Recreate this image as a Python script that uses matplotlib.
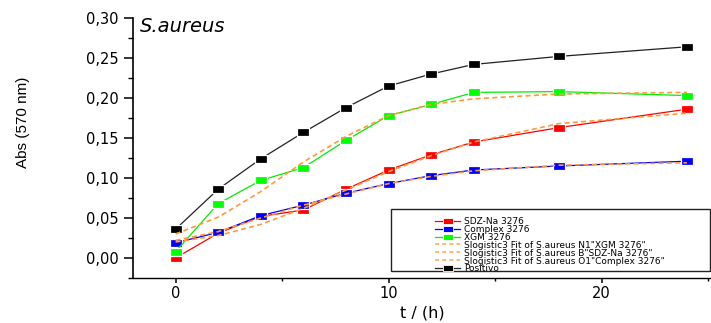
import matplotlib
matplotlib.use("Agg")
import matplotlib.pyplot as plt
from matplotlib.path import Path
from matplotlib.patches import Rectangle
from matplotlib.lines import Line2D
from matplotlib.ticker import MultipleLocator, FuncFormatter
import warnings

warnings.filterwarnings("ignore")

# Sampling times (h)
time_h = [0, 2, 4, 6, 8, 10, 12, 14, 18, 24]

# Absorbance at 570 nm
abs_sdz_na = [0.000, 0.031, 0.052, 0.060, 0.086, 0.110, 0.129, 0.145, 0.163, 0.186]
abs_complex = [0.019, 0.032, 0.053, 0.066, 0.081, 0.093, 0.103, 0.110, 0.115, 0.121]
abs_xgm = [0.008, 0.068, 0.097, 0.113, 0.147, 0.178, 0.192, 0.207, 0.208, 0.203]
abs_positivo = [0.036, 0.086, 0.124, 0.157, 0.188, 0.215, 0.230, 0.242, 0.252, 0.264]

# Slogistic3 fitted values at the sampling times
fit_xgm = [0.030, 0.051, 0.083, 0.120, 0.152, 0.178, 0.192, 0.199, 0.205, 0.207]
fit_sdz_na = [0.020, 0.028, 0.042, 0.062, 0.085, 0.108, 0.128, 0.145, 0.168, 0.181]
fit_complex = [0.022, 0.033, 0.050, 0.066, 0.080, 0.093, 0.102, 0.109, 0.116, 0.119]

labels = ["SDZ-Na 3276", "Complex 3276", "XGM 3276",
          'Slogistic3 Fit of S.aureus N1"XGM 3276"',
          'Slogistic3 Fit of S.aureus B"SDZ-Na 3276"',
          'Slogistic3 Fit of S.aureus O1"Complex 3276"',
          "Positivo"]

W, H = 711, 323
fig = plt.figure(figsize=(W / 100, H / 100), dpi=100)


def fx(px):
    return px / W


def fy(py):
    return 1 - py / H


ax = fig.add_axes([fx(133), fy(278.3), (W - 133) / W, (278.3 - 18) / H])

rect = Path([(-1, -0.7), (1, -0.7), (1, 0.7), (-1, 0.7), (-1, -0.7)],
            [Path.MOVETO, Path.LINETO, Path.LINETO, Path.LINETO, Path.CLOSEPOLY])

data_style = dict(marker=rect, markersize=8.6, markeredgecolor="white",
                  markeredgewidth=0.9, linewidth=0.9)
fit_style = dict(color="#FF9A3C", linestyle=(0, (3, 2)), linewidth=1.2)

h_sdz, = ax.plot(time_h, abs_sdz_na, color="#FF0000", markerfacecolor="#FF0000", **data_style)
h_cpx, = ax.plot(time_h, abs_complex, color="#0000FF", markerfacecolor="#0000FF", **data_style)
h_xgm, = ax.plot(time_h, abs_xgm, color="#00EE00", markerfacecolor="#00FF00", **data_style)
h_pos, = ax.plot(time_h, abs_positivo, color="#222222", markerfacecolor="#000000", **data_style)
h_fx, = ax.plot(time_h, fit_xgm, **fit_style)
h_fs, = ax.plot(time_h, fit_sdz_na, **fit_style)
h_fc, = ax.plot(time_h, fit_complex, **fit_style)

ax.set_xlim(-2.0, 25.13)
ax.set_ylim(-0.0254, 0.30)

for side in ("top", "right"):
    ax.spines[side].set_visible(False)
ax.spines["left"].set_linewidth(1.2)
ax.spines["bottom"].set_linewidth(1.0)

ax.xaxis.set_major_locator(MultipleLocator(10))
ax.xaxis.set_minor_locator(MultipleLocator(5))
ax.yaxis.set_major_locator(MultipleLocator(0.05))
ax.yaxis.set_minor_locator(MultipleLocator(0.025))
ax.yaxis.set_major_formatter(FuncFormatter(lambda v, p: f"{v:.2f}".replace(".", ",").replace("-0,00", "0,00")))

ax.tick_params(axis="y", which="major", direction="out", length=6.5, width=1.1,
               labelsize=10.5, pad=4)
ax.tick_params(axis="y", which="minor", direction="out", length=3.6, width=1.0)
ax.tick_params(axis="x", which="major", direction="out", length=3.6, width=1.1,
               labelsize=10.5, pad=2)
ax.tick_params(axis="x", which="minor", direction="out", length=1.8, width=1.0)

fig.text(fx(422), fy(313), "t / (h)", ha="center", va="center", fontsize=11.5)
fig.text(fx(23), fy(122), "Abs (570 nm)", rotation=90, ha="center", va="center",
         fontsize=11, family=["Liberation Sans Narrow", "Liberation Sans"])
fig.text(fx(140), fy(26), "S.aureus", style="italic", fontsize=14, ha="left", va="center")

# Legend: framed box with one row per series, each row copying its line's style
fig.patches.append(Rectangle((fx(391), fy(271)), (710 - 391) / W, (271 - 209) / H,
                             transform=fig.transFigure, fill=True, facecolor="white",
                             edgecolor="#222222", linewidth=1.0, zorder=5))
handles = [h_sdz, h_cpx, h_xgm, h_fx, h_fs, h_fc, h_pos]
row_y0, row_step = 221.0, 7.8
for i, (h, lab) in enumerate(zip(handles, labels)):
    y = fy(row_y0 + i * row_step)
    has_marker = h.get_marker() not in (None, "None", "", " ")
    seg = Line2D([fx(435), fx(460)], [y, y], transform=fig.transFigure,
                 color=h.get_color(), linestyle=h.get_linestyle(),
                 linewidth=h.get_linewidth(), zorder=6)
    if h in (h_fx, h_fs, h_fc):
        seg.set_dashes((2.5, 1.8))
        seg.set_alpha(0.8)
    fig.lines.append(seg)
    if has_marker:
        fig.lines.append(Line2D([fx(447.5)], [y], transform=fig.transFigure,
                                marker=rect, markersize=6.6, linestyle="none",
                                markerfacecolor=h.get_markerfacecolor(),
                                markeredgecolor="white", markeredgewidth=0.6, zorder=7))
    fig.text(fx(464), y, lab, fontsize=6.5, ha="left", va="center_baseline", zorder=7)

fig.savefig("out.png", dpi=100)
